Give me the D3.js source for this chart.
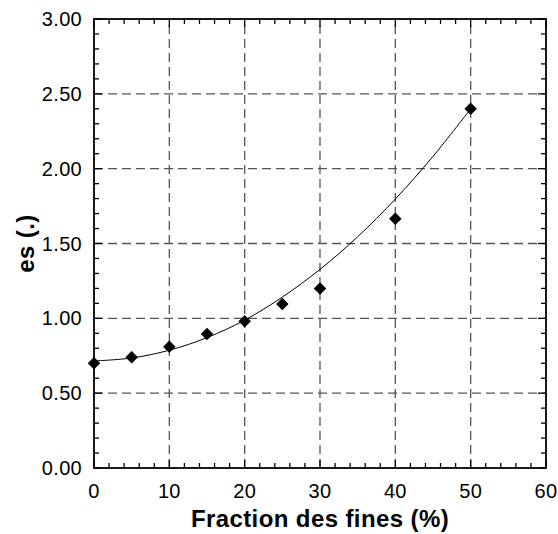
<!DOCTYPE html>
<meta charset="utf-8">
<style>
body {
  margin: 0;
  background: #fff;
  font-family: "Liberation Sans", Arial, Helvetica, sans-serif;
}
.tick-label {
  font-size: 20px;
  letter-spacing: 0.3px;
  fill: #000;
}
.axis-title {
  font-size: 24px;
  letter-spacing: 0.4px;
  font-weight: bold;
  fill: #000;
}
.grid line {
  stroke: #555;
  stroke-width: 1.3;
  stroke-dasharray: 9,5;
}
</style>
<body>
<script src="https://cdn.jsdelivr.net/npm/d3@7"></script>
<script>

var width = 558,
    height = 534;

var margin = {left: 94, top: 19, right: 12, bottom: 66};

// measured points
var fines = [0, 5, 10, 15, 20, 25, 30, 40, 50];
var es = [0.70, 0.74, 0.81, 0.895, 0.98, 1.095, 1.20, 1.665, 2.40];

// trend curve
var curveX = [0, 5, 10, 15, 20, 25, 30, 35, 40, 45, 50];
var curveY = [0.715, 0.735, 0.787, 0.871, 0.988, 1.142, 1.327, 1.545, 1.797, 2.082, 2.40];

var xTicks = [0, 10, 20, 30, 40, 50, 60];
var yTicks = [0, 0.5, 1, 1.5, 2, 2.5, 3];

var x = d3.scaleLinear()
    .domain([0, 60])
    .range([margin.left, width - margin.right]);

var y = d3.scaleLinear()
    .domain([0, 3])
    .range([height - margin.bottom, margin.top]);

var svg = d3.select("body").append("svg")
    .attr("width", width)
    .attr("height", height);

var x0 = x.range()[0], x1 = x.range()[1],
    y0 = y.range()[0], y1 = y.range()[1];

// grid
var grid = svg.append("g").attr("class", "grid");
grid.selectAll(".gx")
    .data(xTicks.slice(1, -1))
  .enter().append("line")
    .attr("x1", function(d) { return x(d); })
    .attr("x2", function(d) { return x(d); })
    .attr("y1", y0)
    .attr("y2", y1);
grid.selectAll(".gy")
    .data(yTicks.slice(1, -1))
  .enter().append("line")
    .attr("y1", function(d) { return y(d); })
    .attr("y2", function(d) { return y(d); })
    .attr("x1", x0)
    .attr("x2", x1);

// inward ticks on all four sides
var minorX = d3.range(0, 61, 2);
var minorY = d3.range(0, 31).map(function(d) { return d / 10; });
var ticks = svg.append("g").attr("stroke", "#000").attr("stroke-width", 1.3);

function tlen(major) { return major ? 8 : 5; }

minorX.forEach(function(v) {
  var m = v % 10 === 0, l = tlen(m);
  ticks.append("line").attr("x1", x(v)).attr("x2", x(v)).attr("y1", y0).attr("y2", y0 - l);
  ticks.append("line").attr("x1", x(v)).attr("x2", x(v)).attr("y1", y1).attr("y2", y1 + l);
});
minorY.forEach(function(v, i) {
  var m = i % 5 === 0, l = tlen(m);
  ticks.append("line").attr("y1", y(v)).attr("y2", y(v)).attr("x1", x0).attr("x2", x0 + l);
  ticks.append("line").attr("y1", y(v)).attr("y2", y(v)).attr("x1", x1).attr("x2", x1 - l);
});

// frame
svg.append("rect")
    .attr("x", x0)
    .attr("y", y1)
    .attr("width", x1 - x0)
    .attr("height", y0 - y1)
    .attr("fill", "none")
    .attr("stroke", "#000")
    .attr("stroke-width", 1.8);

// tick labels
svg.selectAll(".xl")
    .data(xTicks)
  .enter().append("text")
    .attr("class", "tick-label")
    .attr("x", function(d) { return x(d); })
    .attr("y", y0 + 30)
    .attr("text-anchor", "middle")
    .text(function(d) { return d; });

svg.selectAll(".yl")
    .data(yTicks)
  .enter().append("text")
    .attr("class", "tick-label")
    .attr("x", x0 - 12)
    .attr("y", function(d) { return y(d); })
    .attr("dy", "0.35em")
    .attr("text-anchor", "end")
    .text(function(d) { return d3.format(".2f")(d); });

// axis titles
svg.append("text")
    .attr("class", "axis-title")
    .attr("x", (x0 + x1) / 2)
    .attr("y", 527)
    .attr("text-anchor", "middle")
    .text("Fraction des fines (%)");

svg.append("text")
    .attr("class", "axis-title")
    .attr("transform", "translate(34," + ((y0 + y1) / 2) + ") rotate(-90)")
    .attr("text-anchor", "middle")
    .text("es (.)");

// trend curve
var line = d3.line()
    .x(function(d) { return x(d[0]); })
    .y(function(d) { return y(d[1]); })
    .curve(d3.curveCatmullRom);

svg.append("path")
    .datum(d3.zip(curveX, curveY))
    .attr("d", line)
    .attr("fill", "none")
    .attr("stroke", "#000")
    .attr("stroke-width", 1);

// diamonds
var diamond = d3.symbol().type(d3.symbolSquare).size(78);
svg.selectAll(".pt")
    .data(d3.zip(fines, es))
  .enter().append("path")
    .attr("d", diamond)
    .attr("transform", function(d) { return "translate(" + x(d[0]) + "," + y(d[1]) + ") rotate(45)"; })
    .attr("fill", "#000");

</script>
